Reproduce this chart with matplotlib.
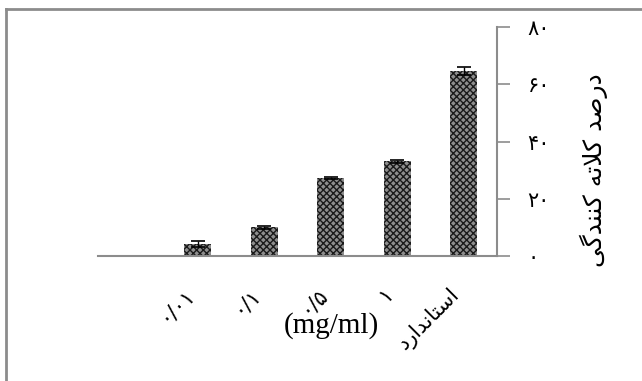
import matplotlib.pyplot as plt
from matplotlib.lines import Line2D

# data
categories = ["۰/۰۱", "۰/۱", "۰/۵", "۱", "استاندارد"]
values = [4.2, 10.0, 27.3, 33.1, 64.7]
errors = [1.2, 0.6, 0.4, 0.6, 1.3]
y_ticks = [0, 20, 40, 60, 80]
y_tick_labels = ["۰", "۲۰", "۴۰", "۶۰", "۸۰"]
y_label = "درصد کلاته کنندگی"
x_label = "(mg/ml)"

# minimal Arabic/Persian shaping: (isolated, final, initial, medial)
FORMS = {
    "ا": ("\uFE8D", "\uFE8E", None, None),
    "د": ("\uFEA9", "\uFEAA", None, None),
    "ر": ("\uFEAD", "\uFEAE", None, None),
    "س": ("\uFEB1", "\uFEB2", "\uFEB3", "\uFEB4"),
    "ت": ("\uFE95", "\uFE96", "\uFE97", "\uFE98"),
    "ن": ("\uFEE5", "\uFEE6", "\uFEE7", "\uFEE8"),
    "ص": ("\uFEB9", "\uFEBA", "\uFEBB", "\uFEBC"),
    "ل": ("\uFEDD", "\uFEDE", "\uFEDF", "\uFEE0"),
    "ه": ("\uFEE9", "\uFEEA", "\uFEEB", "\uFEEC"),
    "ک": ("\uFB8E", "\uFB8F", "\uFB90", "\uFB91"),
    "گ": ("\uFB92", "\uFB93", "\uFB94", "\uFB95"),
    "ی": ("\uFBFC", "\uFBFD", "\uFBFE", "\uFBFF"),
}


def joins_next(ch):
    return ch in FORMS and FORMS[ch][2] is not None


def shape(text):
    # numbers stay as written, only letters get shaped and put in visual order
    if not any(ch in FORMS for ch in text):
        return text
    out = []
    i = 0
    while i < len(text):
        ch = text[i]
        if ch not in FORMS:
            out.append(ch)
            i += 1
            continue
        prev_join = i > 0 and joins_next(text[i - 1])
        if ch == "ل" and i + 1 < len(text) and text[i + 1] == "ا":
            out.append("\uFEFC" if prev_join else "\uFEFB")
            i += 2
            continue
        next_join = joins_next(ch) and i + 1 < len(text) and text[i + 1] in FORMS
        iso, fin, ini, med = FORMS[ch]
        if prev_join and next_join:
            out.append(med)
        elif prev_join:
            out.append(fin)
        elif next_join:
            out.append(ini)
        else:
            out.append(iso)
        i += 1
    return "".join(out)[::-1]


fig = plt.figure(figsize=(6.42, 3.81), dpi=100)
ax = fig.add_axes([98 / 642, 1 - 256 / 381, 399 / 642, 229 / 381])

pos = list(range(len(categories)))
ax.bar(pos, values, width=0.41, facecolor="#8e8e8e", edgecolor="#1a1a1a",
       hatch="xxxxx", linewidth=0)
ax.errorbar(pos, values, yerr=errors, fmt="none", ecolor="black",
            elinewidth=1, capsize=5, capthick=1.2)

ax.set_xlim(-1.5, 4.5)
ax.set_ylim(0, 80)

for s in ["top", "left"]:
    ax.spines[s].set_visible(False)
for s in ["right", "bottom"]:
    ax.spines[s].set_color("#8c8c8c")
    ax.spines[s].set_linewidth(1.5)

ax.yaxis.tick_right()
ax.set_yticks(y_ticks)
ax.set_yticklabels(y_tick_labels, fontsize=15)
ax.tick_params(axis="y", direction="out", length=9, width=1.2,
               color="#8c8c8c", pad=13)

ax.set_xticks(pos)
ax.set_xticklabels([shape(c) for c in categories], rotation=45,
                   ha="right", fontsize=15)
ax.tick_params(axis="x", length=0, pad=20)

fig.text(331 / 642, 1 - 326 / 381, x_label, family="Liberation Serif",
         fontsize=21, ha="center", va="center")
fig.text(594 / 642, 1 - 170 / 381, shape(y_label), rotation=90,
         fontsize=18, ha="center", va="center")

# outer frame, only top and left edges fall inside the image
frame_x = 6 / 642
frame_y = 1 - 9 / 381
fig.add_artist(Line2D([frame_x, 1], [frame_y, frame_y], transform=fig.transFigure,
                      color="#8c8c8c", linewidth=2))
fig.add_artist(Line2D([frame_x, frame_x], [0, frame_y], transform=fig.transFigure,
                      color="#8c8c8c", linewidth=2))

fig.savefig("out.png", dpi=100)
